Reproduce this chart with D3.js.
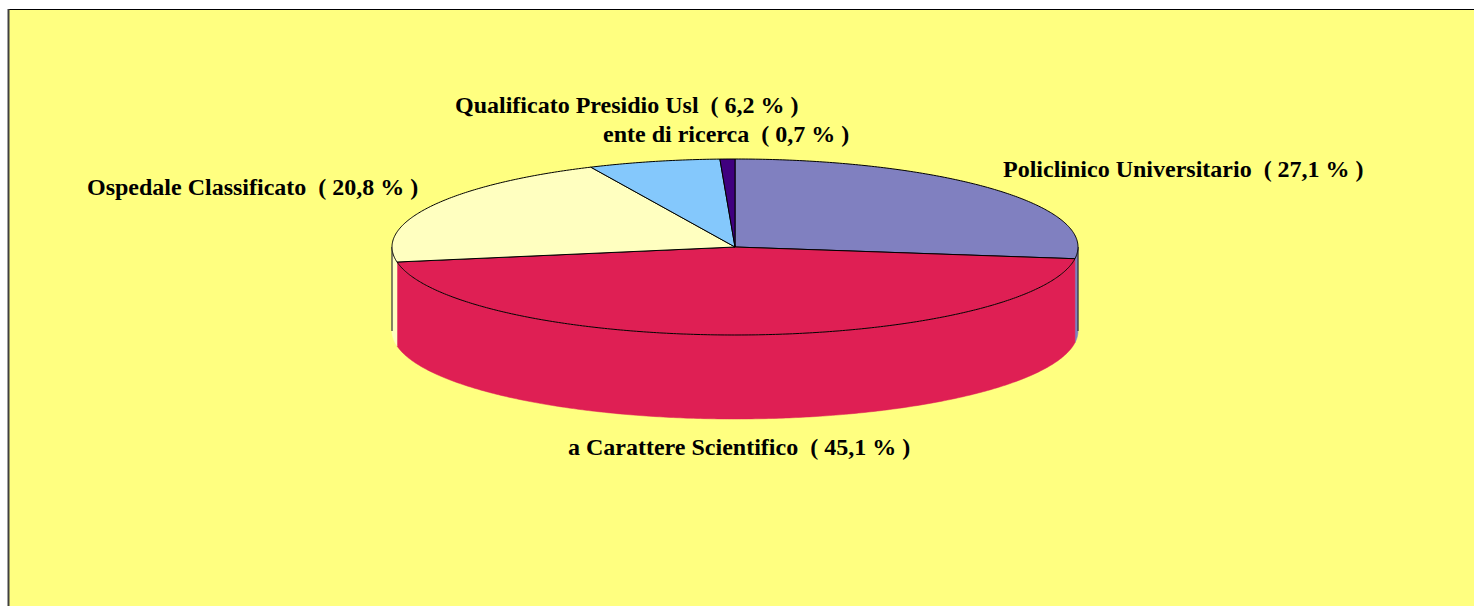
<!DOCTYPE html>
<html>
<head>
<meta charset="utf-8">
<script src="https://cdn.jsdelivr.net/npm/d3@7"></script>
<style>
  html, body { margin: 0; padding: 0; background: #fff; }
  svg { display: block; }
  text { font-family: "Liberation Serif", "Times New Roman", serif; font-weight: bold; white-space: pre; }
</style>
</head>
<body>
<div id="chart"></div>
<script>
// Slice data (clockwise from 12 o'clock)
const categories = ['Policlinico Universitario', 'a Carattere Scientifico', 'Ospedale Classificato', 'Qualificato Presidio Usl', 'ente di ricerca'];
const values = [27.1, 45.1, 20.8, 6.2, 0.7];
const valueLabels = ['27,1', '45,1', '20,8', '6,2', '0,7'];
const colors = ['#8080C0', '#DF1F54', '#FFFFC0', '#84C8FC', '#40007F'];

// Label placement (text start x, baseline y)
const labelPos = [[1003, 177], [568, 455], [87, 195], [455, 113], [603, 142]];

const width = 1474, height = 606;
const cx = 735, cy = 247, rx = 343, ry = 88, depth = 84;

const svg = d3.select('#chart').append('svg')
  .attr('width', width)
  .attr('height', height);

// Chart area background with border
svg.append('rect')
  .attr('x', 8).attr('y', 9)
  .attr('width', width).attr('height', height)
  .attr('fill', '#FFFF80');
svg.append('line')
  .attr('x1', 8).attr('y1', 9.5).attr('x2', width).attr('y2', 9.5)
  .attr('stroke', '#000').attr('stroke-width', 1);
svg.append('line')
  .attr('x1', 8.5).attr('y1', 9).attr('x2', 8.5).attr('y2', height)
  .attr('stroke', '#404040').attr('stroke-width', 2);

const pie = d3.pie().sort(null).startAngle(0).endAngle(2 * Math.PI);
const arcs = pie(values);

function pt(a, dy) {
  return [cx + rx * Math.sin(a), cy - ry * Math.cos(a) + (dy || 0)];
}
function sample(a0, a1, dy) {
  const n = Math.max(2, Math.ceil(Math.abs(a1 - a0) / 0.01));
  return d3.range(n + 1).map(i => pt(a0 + (a1 - a0) * i / n, dy));
}
const line = d3.line();

// Side walls (only the front half is visible)
const front0 = Math.PI / 2, front1 = 3 * Math.PI / 2;
const g = svg.append('g');
arcs.forEach((d, i) => {
  const a0 = Math.max(d.startAngle, front0), a1 = Math.min(d.endAngle, front1);
  if (a1 <= a0) return;
  const pts = sample(a0, a1, 0).concat(sample(a1, a0, depth));
  g.append('path')
    .attr('d', line(pts) + 'Z')
    .attr('fill', colors[i])
    .attr('stroke', colors[i])
    .attr('stroke-width', 0.5);
});
// Outer vertical edges of the cylinder
[front0, front1].forEach(a => {
  g.append('path')
    .attr('d', line([pt(a, 0), pt(a, depth)]))
    .attr('stroke', '#333')
    .attr('stroke-width', 1.2)
    .attr('fill', 'none');
});

// Top faces
arcs.forEach((d, i) => {
  const pts = [[cx, cy]].concat(sample(d.startAngle, d.endAngle, 0));
  g.append('path')
    .attr('d', line(pts) + 'Z')
    .attr('fill', colors[i])
    .attr('stroke', '#000')
    .attr('stroke-width', 1)
    .attr('stroke-linejoin', 'round');
});

// Labels
svg.selectAll('text.lbl')
  .data(arcs)
  .enter().append('text')
  .attr('class', 'lbl')
  .attr('x', (d, i) => labelPos[i][0])
  .attr('y', (d, i) => labelPos[i][1])
  .attr('font-size', 24)
  .attr('fill', '#000')
  .text((d, i) => categories[i] + '  ( ' + valueLabels[i] + ' % )');
</script>
</body>
</html>
